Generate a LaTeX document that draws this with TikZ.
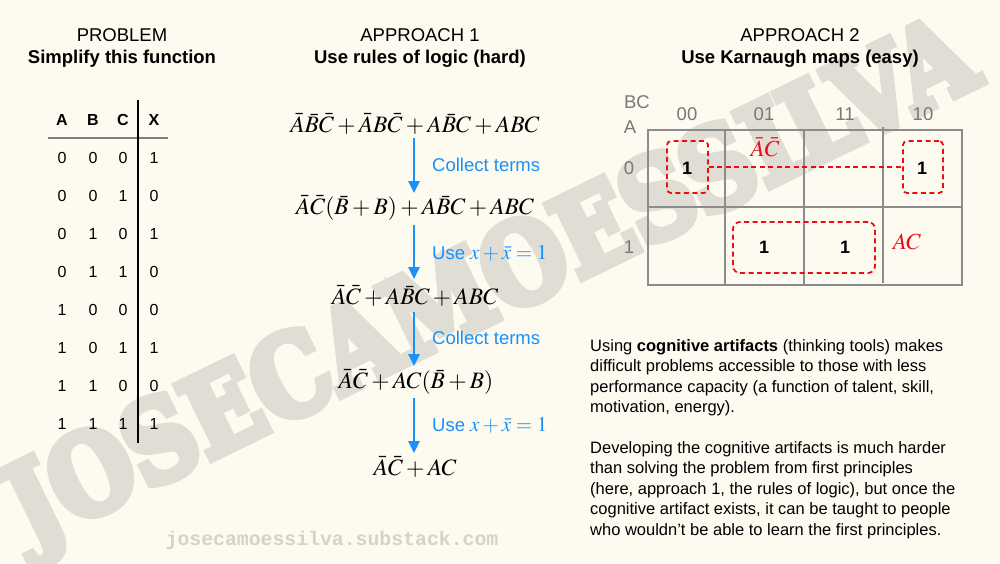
\documentclass[tikz,border=0pt]{standalone}
\usepackage{graphicx}
\usepackage{mathptmx}
\usepackage{fontspec}
\setmainfont{Liberation Sans}
\setmonofont{Liberation Mono}
\newfontfamily\wmfont[FakeBold=8]{DejaVu Serif Bold}
\usetikzlibrary{arrows.meta}
\definecolor{bg}{RGB}{253,250,240}
\definecolor{wm}{RGB}{224,221,212}
\definecolor{flowblue}{RGB}{25,145,250}
\definecolor{kred}{RGB}{235,12,22}
\definecolor{kgray}{RGB}{140,140,140}
\definecolor{lblgray}{RGB}{120,120,120}
\definecolor{foot}{RGB}{214,210,201}
\tikzset{
  title/.style={font=\fontsize{18.5}{22}\selectfont, inner sep=0},
  subtitle/.style={font=\fontsize{18.5}{22}\selectfont\bfseries, inner sep=0},
  tcell/.style={font=\fontsize{16}{19}\selectfont, inner sep=0},
  thead/.style={font=\fontsize{16}{19}\selectfont\bfseries, inner sep=0},
  eqn/.style={font=\fontsize{23.5}{28}\selectfont, inner sep=3pt},
  flow/.style={draw=flowblue, line width=2.5pt, -{Triangle[width=11pt,length=12pt]}},
  flowlbl/.style={font=\fontsize{18.5}{22}\selectfont, text=flowblue, anchor=west, inner sep=0},
  klbl/.style={font=\fontsize{18.5}{22}\selectfont, text=lblgray, inner sep=0},
  kval/.style={font=\fontsize{18}{22}\selectfont\bfseries, inner sep=0},
  grp/.style={draw=kred, line width=1.8pt, dash pattern=on 5pt off 3.5pt, rounded corners=4pt, inner sep=0},
  redmath/.style={font=\fontsize{23}{27}\selectfont, text=kred, inner sep=0},
  para/.style={font=\fontsize{16.5}{20.6}\selectfont, align=left, anchor=north west, inner sep=0},
}
\begin{document}
\begin{tikzpicture}[x=1pt,y=-1pt]
\fill[bg] (0,0) rectangle (1000,563);
\useasboundingbox (0,0) rectangle (1000,563);

% watermark
\node[rotate=26, text=wm, inner sep=0, anchor=base west] (wmark) at (30,547)
  {\resizebox{1060pt}{82pt}{\wmfont JOSECAMOESSILVA}};

% titles
\node[title] (t1) at (122,35) {PROBLEM};
\node[subtitle] (s1) at (122,59) {Simplify this function};
\node[title] (t2) at (420,35) {APPROACH 1};
\node[subtitle] (s2) at (420,59) {Use rules of logic (hard)};
\node[title] (t3) at (800,35) {APPROACH 2};
\node[subtitle] (s3) at (800,59) {Use Karnaugh maps (easy)};

% truth table
\node[thead] (hA) at (62,120) {A};
\node[thead] (hB) at (93,120) {B};
\node[thead] (hC) at (123,120) {C};
\node[thead] (hX) at (154,120) {X};
\draw[kgray!90!black, line width=2pt] (48,138) -- (168,138);
\draw[black, line width=1.2pt] (138,100) -- (138,443);
\foreach \a/\b/\c/\x [count=\i] in {0/0/0/1,0/0/1/0,0/1/0/1,0/1/1/0,1/0/0/0,1/0/1/1,1/1/0/0,1/1/1/1}{
  \node[tcell] (ra\i) at (62,120+38*\i) {\a};
  \node[tcell] (rb\i) at (93,120+38*\i) {\b};
  \node[tcell] (rc\i) at (123,120+38*\i) {\c};
  \node[tcell] (rx\i) at (154,120+38*\i) {\x};
}

% approach 1
\node[eqn] (e1) at (415,124) {$\bar{A}\bar{B}\bar{C}+\bar{A}B\bar{C}+A\bar{B}C+ABC$};
\node[eqn] (e2) at (415,208) {$\bar{A}\bar{C}(\bar{B}+B)+A\bar{B}C+ABC$};
\node[eqn] (e3) at (415,296) {$\bar{A}\bar{C}+A\bar{B}C+ABC$};
\node[eqn] (e4) at (416,382) {$\bar{A}\bar{C}+AC(\bar{B}+B)$};
\node[eqn] (e5) at (415,467) {$\bar{A}\bar{C}+AC$};
\coordinate (a1s) at (414,138); \coordinate (a1e) at (414,193);
\coordinate (a2s) at (414,225); \coordinate (a2e) at (414,279);
\coordinate (a3s) at (414,312); \coordinate (a3e) at (414,366);
\coordinate (a4s) at (414,398); \coordinate (a4e) at (414,453);
\draw[flow] (a1s) -- (a1e);
\draw[flow] (a2s) -- (a2e);
\draw[flow] (a3s) -- (a3e);
\draw[flow] (a4s) -- (a4e);
\node[flowlbl] (l1) at (432,165) {Collect terms};
\node[flowlbl] (l2) at (432,253) {Use {\fontsize{21}{24}\selectfont$x+\bar{x}=1$}};
\node[flowlbl] (l3) at (432,338) {Collect terms};
\node[flowlbl] (l4) at (432,425) {Use {\fontsize{21}{24}\selectfont$x+\bar{x}=1$}};

% K-map
\draw[kgray, line width=2.5pt] (648,130) rectangle (962,285);
\draw[kgray, line width=2.5pt] (648,207) -- (962,207);
\draw[kgray, line width=2.5pt] (725,130) -- (725,285);
\draw[kgray, line width=2.5pt] (804,130) -- (804,285);
\draw[kgray, line width=2.5pt] (883,127) -- (883,283);
\node[klbl] (kbc) at (637,102) {BC};
\node[klbl] (ka) at (630,127) {A};
\node[klbl] (c00) at (687,114) {00};
\node[klbl] (c01) at (764,114) {01};
\node[klbl] (c11) at (845,114) {11};
\node[klbl] (c10) at (923,114) {10};
\node[klbl] (r0) at (629,168) {0};
\node[klbl] (r1) at (629,247) {1};
\node[kval] (v1) at (687,168) {1};
\node[kval] (v2) at (922,168) {1};
\node[kval] (v3) at (764,247) {1};
\node[kval] (v4) at (845,247) {1};
\node[grp, minimum width=41pt, minimum height=52pt] (g1) at (687.5,167) {};
\node[grp, minimum width=40pt, minimum height=52pt] (g2) at (923,167) {};
\node[grp, minimum width=142pt, minimum height=51pt, rounded corners=7pt] (g3) at (804,247.5) {};
\draw[kred, line width=1.8pt, dash pattern=on 5pt off 3.5pt] (g1.east) -- (g2.west);
\node[redmath] (lac1) at (765,147) {$\bar{A}\bar{C}$};
\node[redmath] (lac2) at (907,242) {$AC$};

% paragraphs
\node[para] (p1) at (590,339) {Using \textbf{cognitive artifacts} (thinking tools) makes\\
difficult problems accessible to those with less\\
performance capacity (a function of talent, skill,\\
motivation, energy).};
\node[para] (p2) at (590,441) {Developing the cognitive artifacts is much harder\\
than solving the problem from first principles\\
(here, approach 1, the rules of logic), but once the\\
cognitive artifact exists, it can be taught to people\\
who wouldn’t be able to learn the first principles.};

% footer
\node[font=\fontsize{19.8}{22}\ttfamily\bfseries, text=foot, inner sep=0] (url) at (332,540) {josecamoessilva.substack.com};
\end{tikzpicture}
\end{document}
